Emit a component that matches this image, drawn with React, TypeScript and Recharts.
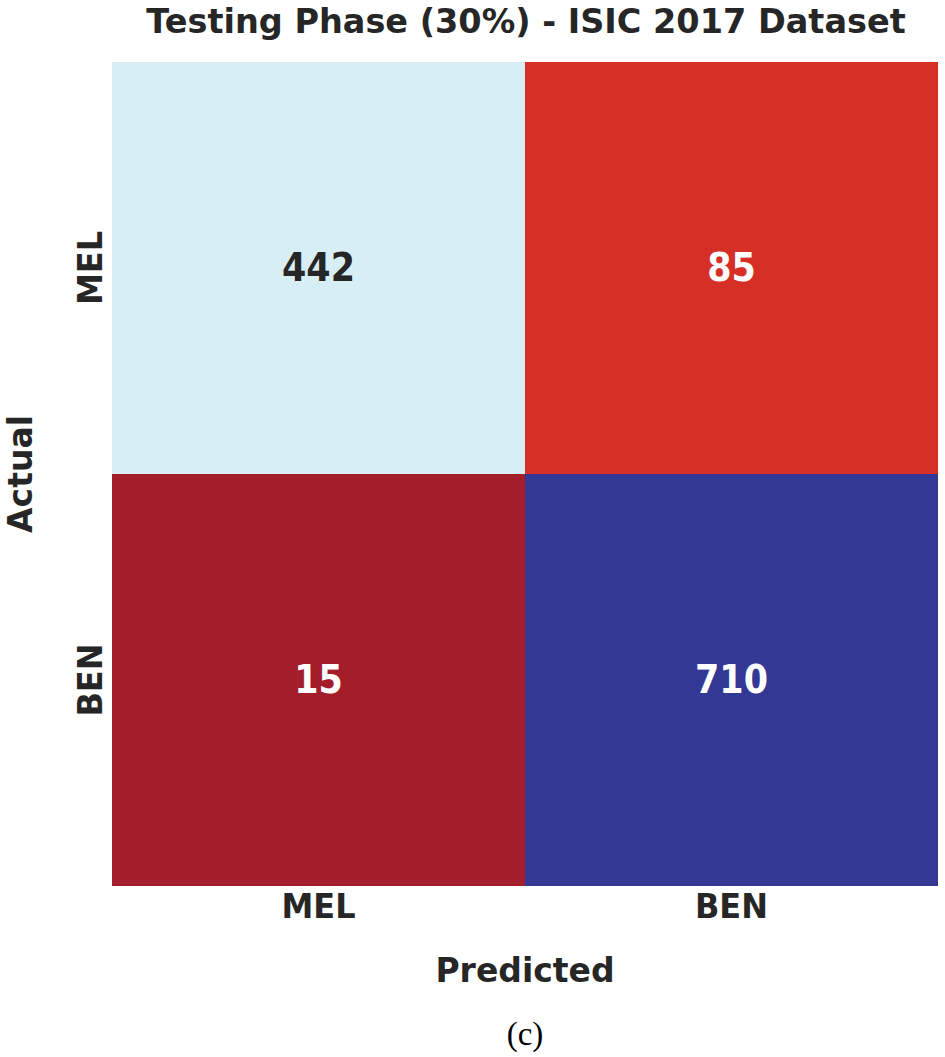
import React from 'react';
import { BarChart, Bar, XAxis, YAxis, Cell, LabelList } from 'recharts';

const predictedLabels = ['MEL', 'BEN'];
const actualLabels = ['MEL', 'BEN'];
// counts[actualIndex][predictedIndex]
const actualMelCounts = [442, 85];
const actualBenCounts = [15, 710];
const actualMelColors = ['#d8eef5', '#d52f26'];
const actualBenColors = ['#a31d2b', '#323894'];
const actualMelTextColors = ['#262626', '#ffffff'];
const actualBenTextColors = ['#ffffff', '#ffffff'];
const titleText = 'Testing Phase (30%) - ISIC 2017 Dataset';
const xTitle = 'Predicted';
const yTitle = 'Actual';
const caption = '(c)';

const data = predictedLabels.map((p, i) => ({
  pred: p,
  benRow: 1,
  melRow: 1,
  benVal: actualBenCounts[i],
  melVal: actualMelCounts[i],
}));

const FONT = '"DejaVu Sans", Verdana, sans-serif';
const W = 945;
const H = 1057;

const makeLabel = (key: 'benVal' | 'melVal', colors: string[]) => (props: any) => {
  const { x, y, width, height, index } = props;
  const v = data[index][key];
  const cx = x + width / 2;
  const cy = y + height / 2;
  return (
    <g transform={`translate(${cx}, ${cy}) scale(1, 1.12)`}>
      <text
        x={0}
        y={0}
        textAnchor="middle"
        dominantBaseline="central"
        fontFamily={FONT}
        fontWeight="bold"
        fontSize={35}
        fill={colors[index]}
      >
        {v}
      </text>
    </g>
  );
};

const XTick = (props: any) => {
  const { x, y, payload } = props;
  return (
    <g transform={`translate(${x}, ${y + 32}) scale(1, 1.06)`}>
      <text x={0} y={0} textAnchor="middle" fontFamily={FONT} fontWeight="bold" fontSize={32} fill="#262626">
        {payload.value}
      </text>
    </g>
  );
};

const YTick = (props: any) => {
  const { x, y, payload } = props;
  const label = payload.value > 1 ? actualLabels[0] : actualLabels[1];
  const bx = x - 10;
  return (
    <g transform={`translate(${bx}, ${y}) rotate(-90) scale(1, 1.06)`}>
      <text x={0} y={0} textAnchor="middle" fontFamily={FONT} fontWeight="bold" fontSize={32} fill="#262626">
        {label}
      </text>
    </g>
  );
};

const XLabel = (props: any) => {
  const { viewBox } = props;
  const cx = viewBox.x + viewBox.width / 2;
  return (
    <text x={cx} y={viewBox.y + 96} textAnchor="middle" fontFamily={FONT} fontWeight="bold" fontSize={33} fill="#262626">
      {xTitle}
    </text>
  );
};

const YLabel = (props: any) => {
  const { viewBox } = props;
  const bx = viewBox.x + 20;
  const cy = viewBox.y + viewBox.height / 2;
  return (
    <text
      x={bx}
      y={cy}
      textAnchor="middle"
      transform={`rotate(-90, ${bx}, ${cy})`}
      fontFamily={FONT}
      fontWeight="bold"
      fontSize={33}
      fill="#262626"
    >
      {yTitle}
    </text>
  );
};

export default function App() {
  return (
    <div style={{ position: 'absolute', left: 0, top: 0, width: W, height: H, background: '#ffffff' }}>
      <BarChart
        width={W}
        height={H}
        data={data}
        margin={{ top: 62, right: 7, bottom: 71, left: 12 }}
        barCategoryGap={0}
        barGap={0}
      >
        <XAxis
          dataKey="pred"
          type="category"
          height={100}
          axisLine={false}
          tickLine={false}
          tickSize={0}
          tickMargin={0}
          tick={<XTick />}
          label={<XLabel />}
        />
        <YAxis
          type="number"
          domain={[0, 2]}
          ticks={[0.5, 1.5]}
          width={100}
          axisLine={false}
          tickLine={false}
          tickSize={0}
          tickMargin={0}
          tick={<YTick />}
          label={<YLabel />}
        />
        <Bar dataKey="benRow" stackId="s" isAnimationActive={false}>
          {data.map((d, i) => (
            <Cell key={`b${i}`} fill={actualBenColors[i]} />
          ))}
          <LabelList dataKey="benVal" content={makeLabel('benVal', actualBenTextColors)} />
        </Bar>
        <Bar dataKey="melRow" stackId="s" isAnimationActive={false}>
          {data.map((d, i) => (
            <Cell key={`m${i}`} fill={actualMelColors[i]} />
          ))}
          <LabelList dataKey="melVal" content={makeLabel('melVal', actualMelTextColors)} />
        </Bar>
      </BarChart>
      <svg width={W} height={H} style={{ position: 'absolute', left: 0, top: 0, pointerEvents: 'none' }}>
        <text x={526} y={33} textAnchor="middle" fontFamily={FONT} fontWeight="bold" fontSize={33.5} fill="#262626">
          {titleText}
        </text>
        <text x={525} y={1045} textAnchor="middle" fontFamily='"Liberation Serif", "Times New Roman", serif' fontSize={33} fill="#000000">
          {caption}
        </text>
      </svg>
    </div>
  );
}
